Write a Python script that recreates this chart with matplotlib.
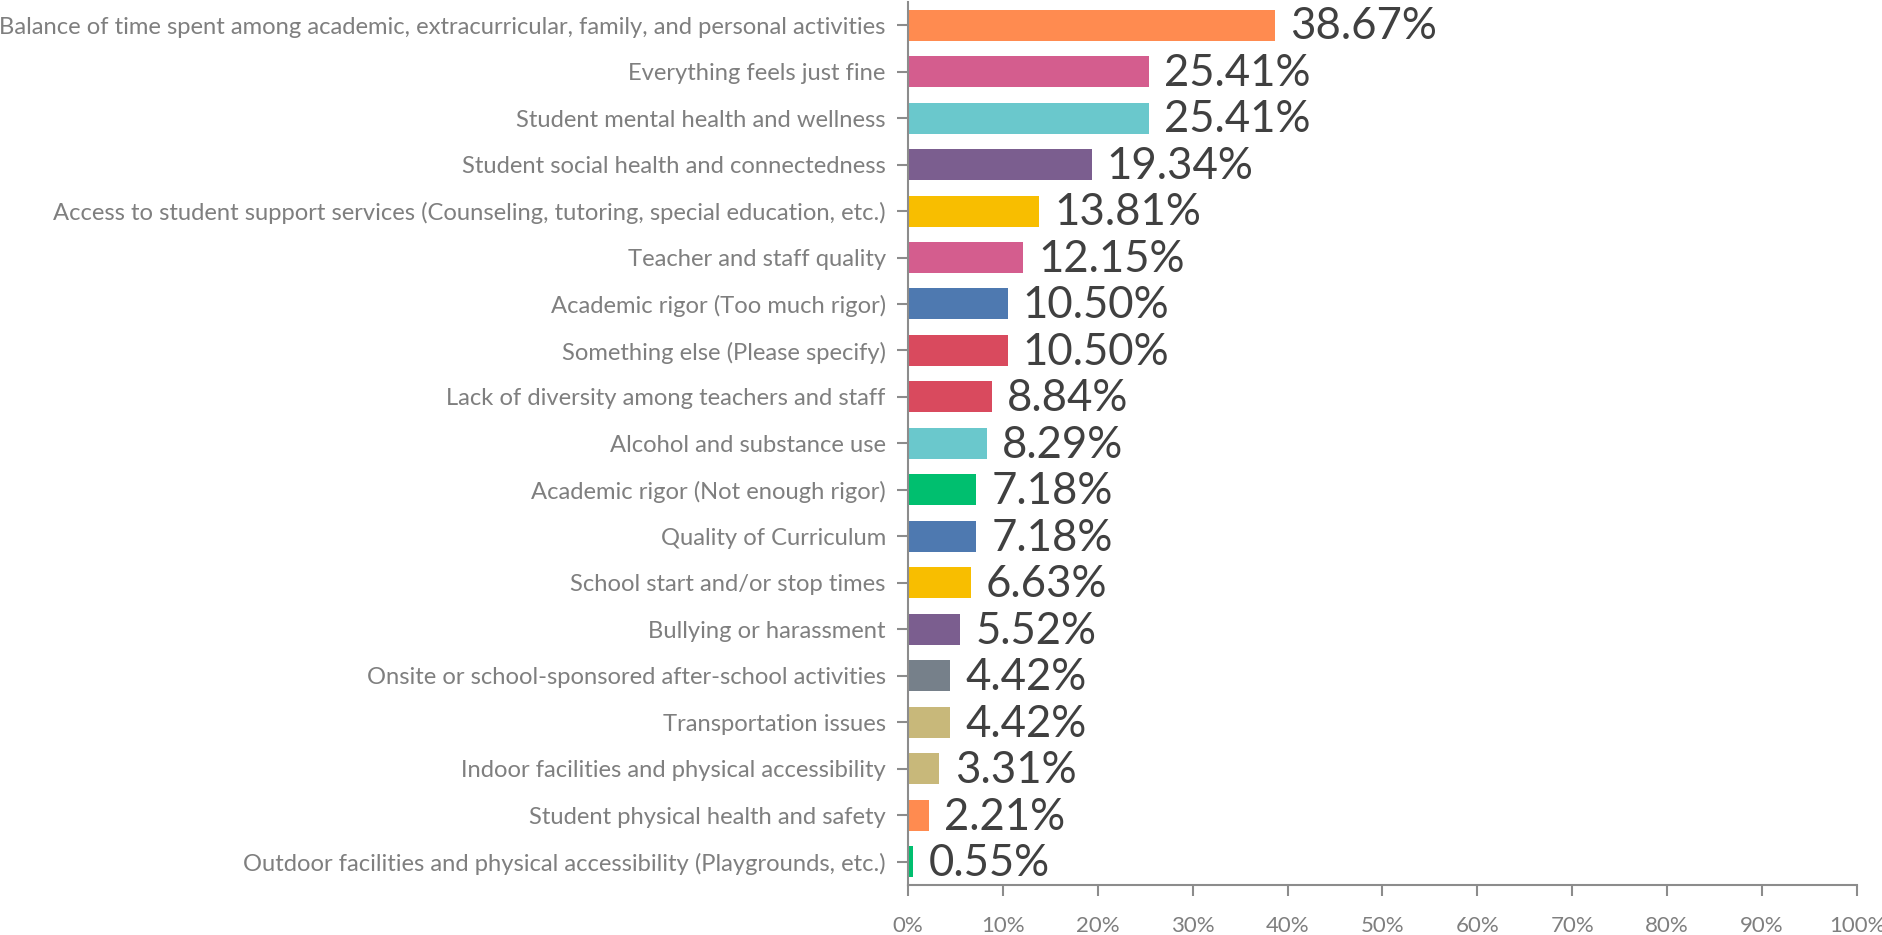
import matplotlib
matplotlib.use("Agg")
import matplotlib.pyplot as plt
from matplotlib.ticker import FuncFormatter

categories = [
    "Balance of time spent among academic, extracurricular, family, and personal activities",
    "Everything feels just fine",
    "Student mental health and wellness",
    "Student social health and connectedness",
    "Access to student support services (Counseling, tutoring, special education, etc.)",
    "Teacher and staff quality",
    "Academic rigor (Too much rigor)",
    "Something else (Please specify)",
    "Lack of diversity among teachers and staff",
    "Alcohol and substance use",
    "Academic rigor (Not enough rigor)",
    "Quality of Curriculum",
    "School start and/or stop times",
    "Bullying or harassment",
    "Onsite or school-sponsored after-school activities",
    "Transportation issues",
    "Indoor facilities and physical accessibility",
    "Student physical health and safety",
    "Outdoor facilities and physical accessibility (Playgrounds, etc.)",
]
values = [38.67, 25.41, 25.41, 19.34, 13.81, 12.15, 10.50, 10.50, 8.84, 8.29,
          7.18, 7.18, 6.63, 5.52, 4.42, 4.42, 3.31, 2.21, 0.55]
colors = ["#FF8B50", "#D45D8E", "#6AC8CC", "#7B5E8F", "#F8BE00", "#D45D8E",
          "#4E79B0", "#D94A5E", "#D94A5E", "#6AC8CC", "#00BF6F", "#4E79B0",
          "#F8BE00", "#7B5E8F", "#76808A", "#C8B87A", "#C8B87A", "#FF8B50",
          "#00BF6F"]
xticks = [0, 10, 20, 30, 40, 50, 60, 70, 80, 90, 100]

plt.rcParams['font.family'] = ['Lato', 'DejaVu Sans']

fig = plt.figure(figsize=(18.83, 9.35), dpi=100)
ax = fig.add_axes([0.4822, 0.0535, 0.5040, 0.9445])

y = list(range(len(categories)))
ax.barh(y, values, height=0.667, color=colors)
for yi, v in zip(y, values):
    ax.text(v + 1.6, yi + 0.04, f"{v:.2f}%", va="center", ha="left",
            fontsize=31.5, color="#404040")

ax.set_yticks(y)
ax.set_yticklabels(categories, fontsize=17.1, color="#7F7F7F")
ax.set_ylim(len(categories) - 0.5, -0.5)
ax.set_xlim(0, 100)
ax.set_xticks(xticks)
ax.xaxis.set_major_formatter(FuncFormatter(lambda v, p: f"{v:.0f}%"))
ax.tick_params(axis="x", labelsize=16, labelcolor="#7F7F7F", color="#8C8C8C",
               length=8, width=1.5, pad=14)
ax.tick_params(axis="y", color="#8C8C8C", length=8, width=1.5, pad=8)
for s in ["top", "right"]:
    ax.spines[s].set_visible(False)
for s in ["left", "bottom"]:
    ax.spines[s].set_color("#8C8C8C")
    ax.spines[s].set_linewidth(1.5)

fig.savefig("out.png", dpi=100)
